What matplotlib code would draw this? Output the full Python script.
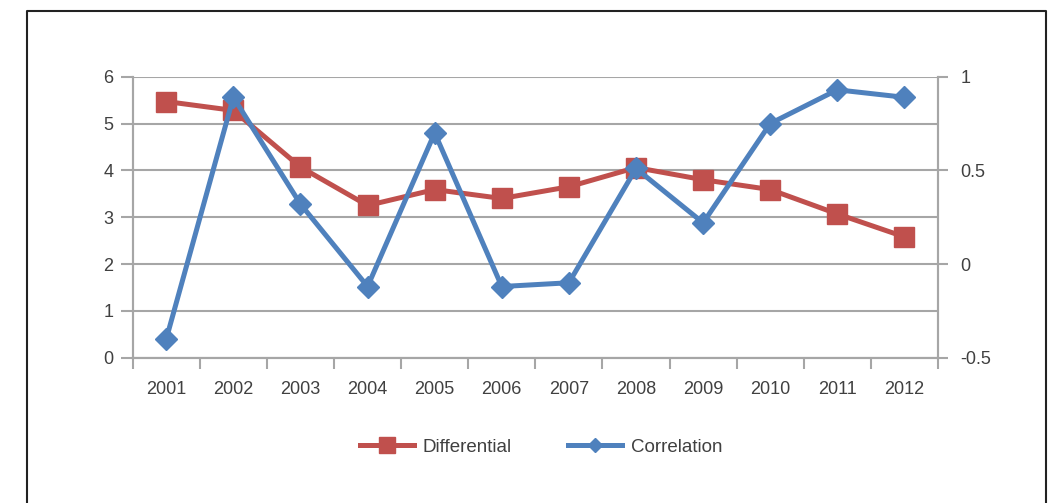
import matplotlib.pyplot as plt
from matplotlib.lines import Line2D

years = ['2001', '2002', '2003', '2004', '2005', '2006',
         '2007', '2008', '2009', '2010', '2011', '2012']
differential = [5.47, 5.28, 4.07, 3.25, 3.59, 3.40, 3.65, 4.06, 3.80, 3.59, 3.07, 2.58]
correlation = [-0.40, 0.89, 0.32, -0.12, 0.70, -0.12, -0.10, 0.51, 0.22, 0.75, 0.93, 0.89]

red = '#C0504D'
blue = '#4F81BD'
grid_c = '#A6A6A6'
text_c = '#404040'

plt.rcParams['font.family'] = ['Liberation Sans', 'DejaVu Sans']

fig = plt.figure(figsize=(10.55, 5.03), dpi=100)

# outer frame (open at the bottom)
fig.add_artist(Line2D([27 / 1055, 27 / 1055, 1046 / 1055, 1046 / 1055],
                      [0, 1 - 10.5 / 503, 1 - 10.5 / 503, 0],
                      transform=fig.transFigure, color='#222222', lw=1.5))

ax = fig.add_axes([132.7 / 1055, 1 - 357.7 / 503, (938 - 132.7) / 1055, (357.7 - 76.7) / 503])
ax2 = ax.twinx()

x = list(range(len(years)))
ax.plot(x, differential, color=red, lw=3.6, marker='s', markersize=15,
        solid_joinstyle='round', zorder=3)
ax2.plot(x, correlation, color=blue, lw=3.6, marker='D', markersize=10.7,
         solid_joinstyle='round', zorder=3)

ax.set_xlim(-0.5, len(years) - 0.5)
ax.set_ylim(0, 6)
ax2.set_ylim(-0.5, 1)
ax.set_yticks(range(0, 7))
ax2.set_yticks([-0.5, 0, 0.5, 1])
ax2.set_yticklabels(['-0.5', '0', '0.5', '1'])

ax.set_xticks(x)
ax.set_xticklabels(years)
ax.set_xticks([i - 0.5 for i in range(len(years) + 1)], minor=True)
ax.tick_params(axis='x', which='major', length=0, pad=17, labelsize=13, labelcolor=text_c)
ax.tick_params(axis='x', which='minor', length=8, width=1.5, color=grid_c)
ax.tick_params(axis='y', length=9, width=1.5, color=grid_c, pad=5, labelsize=13, labelcolor=text_c)
ax2.tick_params(axis='y', length=7, width=1.5, color=grid_c, pad=9, labelsize=13, labelcolor=text_c)

ax.grid(axis='y', color=grid_c, lw=1.5)
ax.set_axisbelow(True)
for a in (ax, ax2):
    for side in ('left', 'right', 'bottom'):
        a.spines[side].set_color(grid_c)
        a.spines[side].set_linewidth(1.5)
    a.spines['top'].set_visible(False)

handles = [Line2D([], [], color=red, lw=3.6, marker='s', markersize=11),
           Line2D([], [], color=blue, lw=3.6, marker='D', markersize=7.5)]
fig.legend(handles, ['Differential', 'Correlation'], loc='center',
           bbox_to_anchor=(541 / 1055, 1 - 447 / 503), ncol=2, frameon=False,
           handlelength=2.9, columnspacing=3.0, handletextpad=0.45,
           prop={'size': 13.5}, labelcolor=text_c)

fig.savefig('out.png', dpi=100)
